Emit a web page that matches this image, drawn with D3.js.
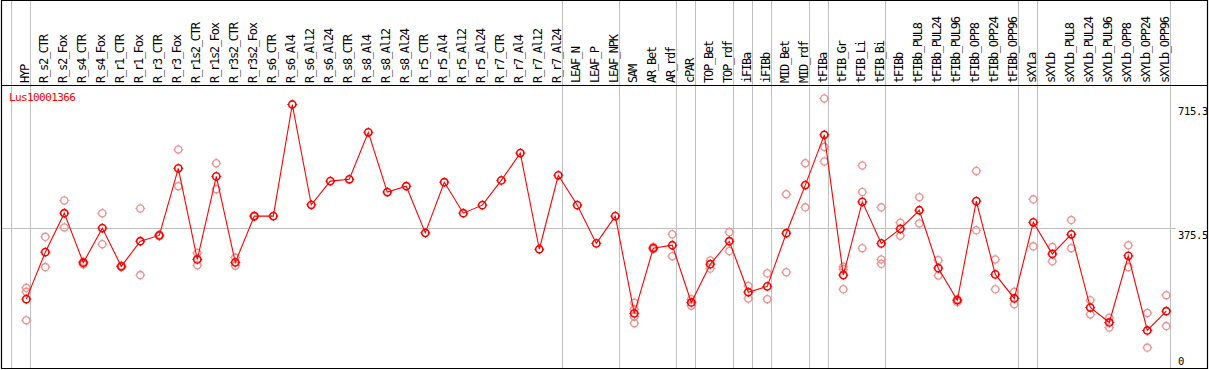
<!DOCTYPE html>
<html>
<head>
<meta charset="utf-8">
<script src="https://cdn.jsdelivr.net/npm/d3@7"></script>
<style>
  html, body { margin: 0; padding: 0; background: #fff; }
  svg { display: block; }
</style>
</head>
<body>
<svg id="chart" width="1209" height="370"></svg>
<script>
const categories = ["HYP","R_s2_CTR","R_s2_Fox","R_s4_CTR","R_s4_Fox","R_r1_CTR","R_r1_Fox","R_r3_CTR","R_r3_Fox","R_r1s2_CTR","R_r1s2_Fox","R_r3s2_CTR","R_r3s2_Fox","R_s6_CTR","R_s6_Al4","R_s6_Al12","R_s6_Al24","R_s8_CTR","R_s8_Al4","R_s8_Al12","R_s8_Al24","R_r5_CTR","R_r5_Al4","R_r5_Al12","R_r5_Al24","R_r7_CTR","R_r7_Al4","R_r7_Al12","R_r7_Al24","LEAF_N","LEAF_P","LEAF_NPK","SAM","AR_Bet","AR_rdf","cPAR","TOP_Bet","TOP_rdf","iFIBa","iFIBb","MID_Bet","MID_rdf","tFIBa","tFIB_Gr","tFIB_Li","tFIB_Bi","tFIBb","tFIBb_PUL8","tFIBb_PUL24","tFIBb_PUL96","tFIBb_OPP8","tFIBb_OPP24","tFIBb_OPP96","sXYLa","sXYLb","sXYLb_PUL8","sXYLb_PUL24","sXYLb_PUL96","sXYLb_OPP8","sXYLb_OPP24","sXYLb_OPP96"];

const meanValues = [181,310,417,281,376,271,340,356,540,290,518,282,409,409,715.3,440,505,510,639,475,491,363,502,417,439,507,582,318,521,439,334,409,142,321,329,172,277,340,200,216,362,494,632,247,448,334,374,425,266,178,450,249,183,392,305,359,158,117,300,95,148];

const replicateValues = [
  [212,201,123],[352,269],[452,378],[284,277],[417,332],[273,269],[430,247],[358,354],[592,491],[308,274],[554,483],[295,273],[410,407],
  [],[],[],[],[],[],[],[],[],[],[],[],[],[],[],[],[],[],[],
  [171,153,133,115],[324,318],[359,299],[181,163],[287,265],[365,313],[217,183],[252,181],[469,255],[554,433],
  [732,599,559],[270,263,208],[548,475,321],[433,290,278],[391,355],[461,389],[288,246],[181,173],[533,370],[290,208],[201,167],
  [455,326],[324,285],[398,321],[178,139],[130,103],[329,269],[143,48],[192,107]
];

const groupEnds = ["HYP","R_r7_Al24","LEAF_NPK","AR_rdf","cPAR","TOP_rdf","iFIBa","iFIBb","MID_rdf","tFIBa","tFIB_Bi","tFIBb_OPP96","sXYLa","sXYLb_OPP96"];
const axisTicks = [715.3, 375.5, 0];
const gridValues = [375.5];
const geneName = "Lus10001366";

const svg = d3.select("#chart");
const headerY = 85.5;

const x = d3.scalePoint().domain(categories).range([26.3, 1166.3]);
const step = x.step();
const y = d3.scaleLinear().domain([0, 715.3]).range([365.1, 104.5]);

const gray = "#c0c0c0";

// horizontal grid
svg.append("g").selectAll("line").data(gridValues).join("line")
  .attr("x1", 1).attr("x2", 1176)
  .attr("y1", d => Math.floor(y(d)) + 0.5).attr("y2", d => Math.floor(y(d)) + 0.5)
  .attr("stroke", gray).attr("stroke-width", 1);

// group separators
const sepX = [x(categories[0]) - step + 4].concat(groupEnds.map(n => x(n) + 4));
svg.append("g").selectAll("line").data(sepX).join("line")
  .attr("x1", d => Math.floor(d) + 0.5).attr("x2", d => Math.floor(d) + 0.5)
  .attr("y1", 0).attr("y2", 369)
  .attr("stroke", gray).attr("stroke-width", 1);

// frame
const frame = svg.append("g").attr("stroke", "#000").attr("stroke-width", 1.2);
frame.append("line").attr("x1", 1.5).attr("x2", 1.5).attr("y1", 0).attr("y2", 369);
frame.append("line").attr("x1", 1207.5).attr("x2", 1207.5).attr("y1", 0).attr("y2", 369);
frame.append("line").attr("x1", 1).attr("x2", 1208).attr("y1", 0.5).attr("y2", 0.5);
frame.append("line").attr("x1", 1).attr("x2", 1208).attr("y1", 368.5).attr("y2", 368.5);
frame.append("line").attr("x1", 1).attr("x2", 1208).attr("y1", headerY).attr("y2", headerY);

// category labels (rotated)
svg.append("g").selectAll("text").data(categories).join("text")
  .attr("transform", d => `translate(${x(d) + 2.9},83) rotate(-90)`)
  .attr("font-family", "DejaVu Sans Mono, monospace")
  .attr("font-size", 12)
  .attr("letter-spacing", -1.25)
  .attr("fill", "#000")
  .text(d => d);

// right axis
const axis = d3.axisRight(y).tickValues(axisTicks).tickSize(0).tickPadding(0)
  .tickFormat(d => d === 0 ? "0" : d3.format(".1f")(d));
const ax = svg.append("g").attr("transform", "translate(1178,0)").call(axis);
ax.select(".domain").remove();
ax.selectAll("text")
  .attr("font-family", "DejaVu Sans Mono, monospace")
  .attr("font-size", 10.5)
  .attr("letter-spacing", -0.3)
  .attr("fill", "#000")
  .attr("dy", d => d === 0 ? "-0.1em" : "0.95em")
  .attr("x", 0)
  .attr("text-anchor", "start");

// gene name
svg.append("text")
  .attr("x", 9).attr("y", 101)
  .attr("font-family", "DejaVu Sans Mono, monospace")
  .attr("font-size", 11)
  .attr("letter-spacing", -0.6)
  .attr("fill", "#ff0000")
  .text(geneName);

// marker shape
const markerPath = "M0,-5V-3.6M0,3.6V5M-5,0H-3.6M3.6,0H5";

// replicate markers
const reps = [];
replicateValues.forEach((arr, i) => arr.forEach(v => reps.push({c: categories[i], v})));
const repG = svg.append("g").selectAll("g").data(reps).join("g")
  .attr("transform", d => `translate(${x(d.c)},${y(d.v)})`);
repG.append("circle").attr("r", 3.6).attr("fill", "none").attr("stroke", "#f09090").attr("stroke-width", 1.3);
repG.append("path").attr("d", markerPath).attr("stroke", "#f09090").attr("stroke-width", 1);

// mean line
const meanData = categories.map((c, i) => ({c, v: meanValues[i]}));
svg.append("path").datum(meanData)
  .attr("d", d3.line().x(d => x(d.c)).y(d => y(d.v)))
  .attr("fill", "none").attr("stroke", "#ff0000").attr("stroke-width", 1.1);

// mean markers
const mG = svg.append("g").selectAll("g").data(meanData).join("g")
  .attr("transform", d => `translate(${x(d.c)},${y(d.v)})`);
mG.append("circle").attr("r", 3.6).attr("fill", "none").attr("stroke", "#ff0000").attr("stroke-width", 1.6);
mG.append("path").attr("d", markerPath).attr("stroke", "#ff0000").attr("stroke-width", 1);
</script>
</body>
</html>
